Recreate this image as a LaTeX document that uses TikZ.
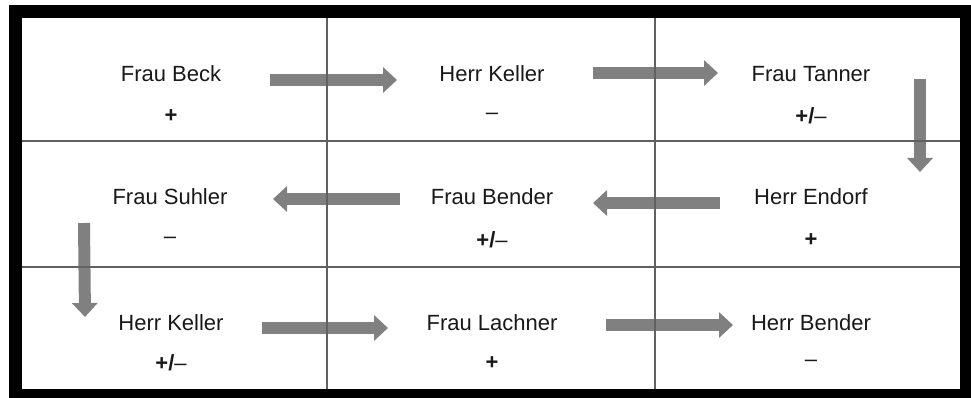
\documentclass[tikz,border=0pt]{standalone}
\usepackage{fontspec}
\setmainfont{Liberation Sans}
\usetikzlibrary{positioning,arrows.meta}

\begin{document}
\begin{tikzpicture}[x=1pt,y=-1pt,on grid,
			person/.style={inner sep=0, font=\fontsize{22}{26}\selectfont, text=black!90},
			rating/.style={person, font=\fontsize{22}{26}\selectfont\bfseries},
			passarrow/.style={line width=12pt, draw=black!50, -{Triangle[width=25pt,length=14pt]}},
			cellline/.style={line width=1.3pt, draw=black!62}]
			
			\useasboundingbox (0,0) rectangle (971,398);
			\fill[black] (9,5) rectangle (971,398);
			\fill[white] (22,18) rectangle (960,389);
			
			% first row
			\node[person] (beck) at (171,74) {Frau Beck};
			\node[person, right=321pt of beck] (kellerA) {Herr Keller};
			\node[person, right=319pt of kellerA] (tanner) {Frau Tanner};
			% second row
			\node[person] (suhler) at (170,197) {Frau Suhler};
			\node[person, right=322pt of suhler] (benderA) {Frau Bender};
			\node[person, right=319pt of benderA] (endorf) {Herr Endorf};
			% third row
			\node[person] (kellerB) at (171,323) {Herr Keller};
			\node[person, right=321pt of kellerB] (lachner) {Frau Lachner};
			\node[person, right=319pt of lachner] (benderB) {Herr Bender};
			
			\node[rating, below=42pt of beck] (beckV) {+};
			\node[rating, below=42pt of kellerA] (kellerAV) {\mdseries –};
			\node[rating, below=42pt of tanner] (tannerV) {+/\mdseries –};
			\node[rating, below=43pt of suhler] (suhlerV) {\mdseries –};
			\node[rating, below=43pt of benderA] (benderAV) {+/\mdseries –};
			\node[rating, below=43pt of endorf] (endorfV) {+};
			\node[rating, below=40pt of kellerB] (kellerBV) {+/\mdseries –};
			\node[rating, below=40pt of lachner] (lachnerV) {+};
			\node[rating, below=40pt of benderB] (benderBV) {\mdseries –};
			
			\draw[passarrow] ([shift={(99pt,-6pt)}]beck.center) -- ([shift={(-95pt,-6pt)}]kellerA.center);
			\draw[passarrow] ([shift={(101pt,1pt)}]kellerA.center) -- ([shift={(-93pt,1pt)}]tanner.center);
			\draw[passarrow] ([shift={(109pt,-5pt)}]tanner.center) -- ([shift={(109pt,25pt)}]endorf.center);
			\draw[passarrow] ([shift={(-91pt,-6pt)}]endorf.center) -- ([shift={(101pt,-6pt)}]benderA.center);
			\draw[passarrow] ([shift={(-92pt,-2pt)}]benderA.center) -- ([shift={(103pt,-2pt)}]suhler.center);
			\draw[passarrow] ([shift={(-86pt,-26pt)}]suhler.center) -- ([shift={(-86pt,6pt)}]kellerB.center);
			\draw[passarrow] ([shift={(91pt,-5pt)}]kellerB.center) -- ([shift={(-104pt,-5pt)}]lachner.center);
			\draw[passarrow] ([shift={(114pt,-2pt)}]lachner.center) -- ([shift={(-78pt,-2pt)}]benderB.center);
			
			\foreach \x in {327,655} \draw[cellline] (\x,18) -- (\x,389);
			\foreach \y in {141,267} \draw[cellline] (22,\y) -- (960,\y);
		\end{tikzpicture}
\end{document}
